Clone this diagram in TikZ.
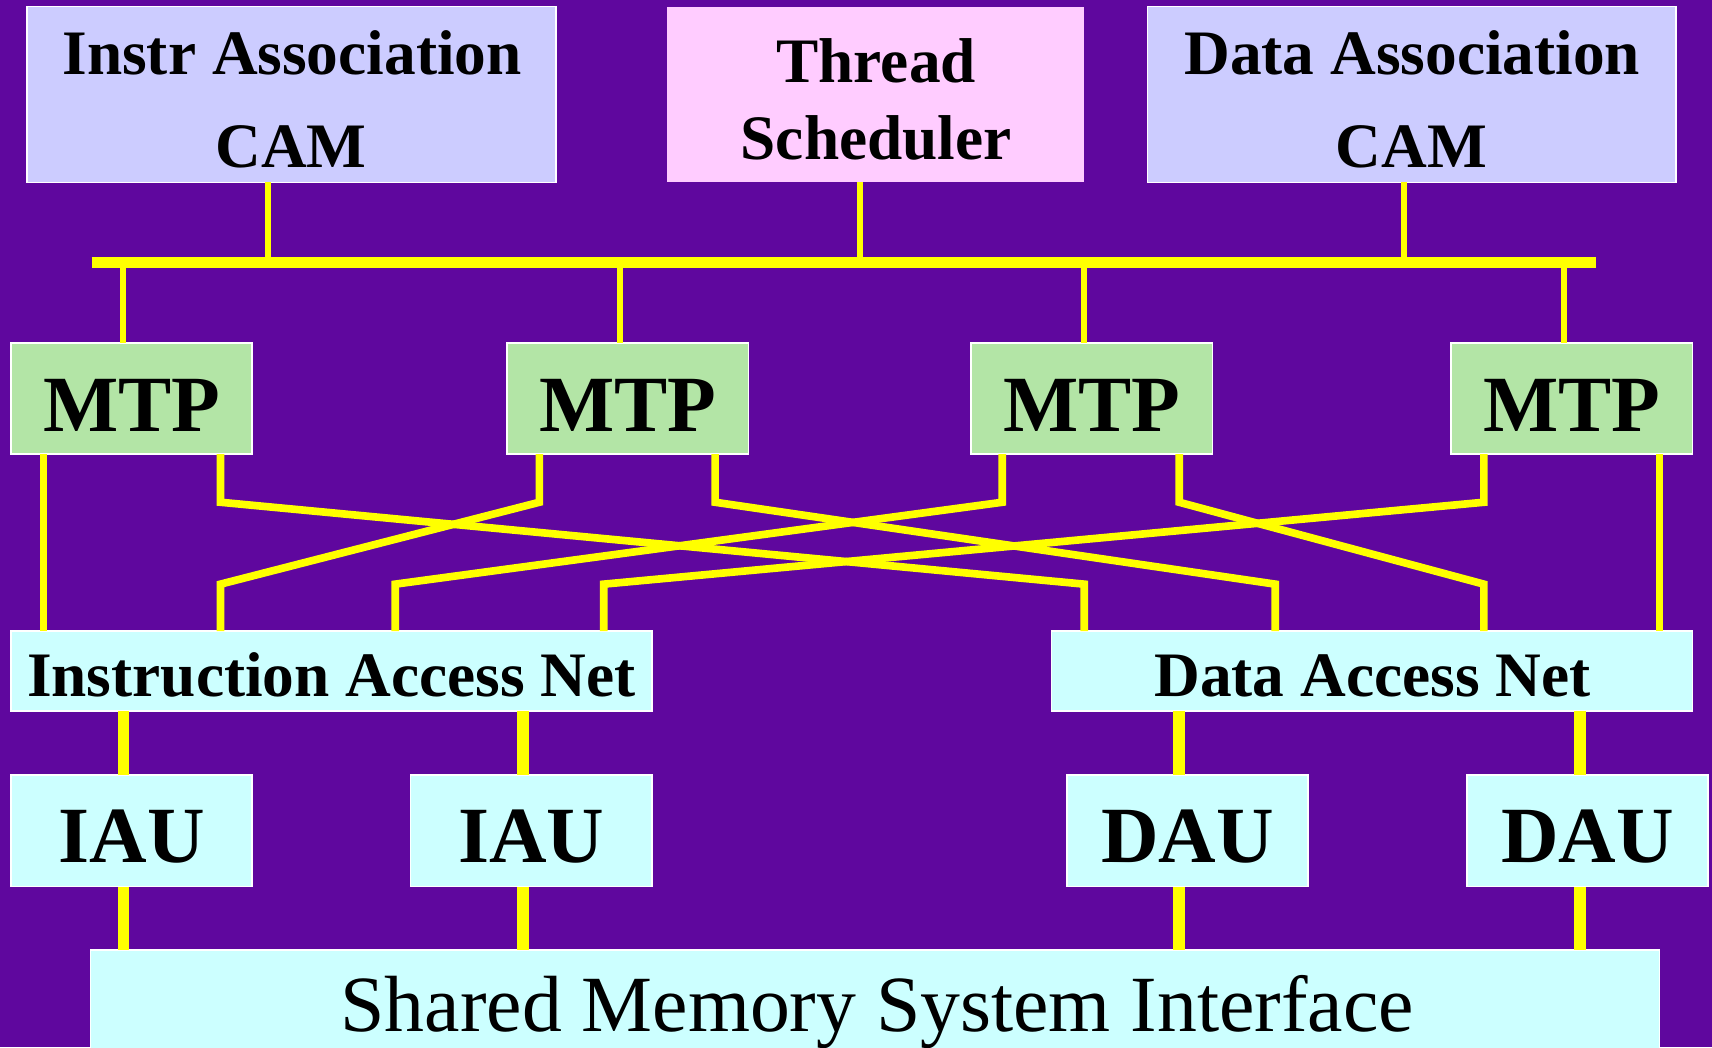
\documentclass[tikz,border=0pt]{standalone}
\usepackage{fontspec}
\setmainfont{Liberation Serif}
\definecolor{bgp}{RGB}{95,7,158}
\definecolor{lav}{RGB}{204,204,255}
\definecolor{pinkb}{RGB}{255,204,255}
\definecolor{mtpg}{RGB}{179,229,166}
\definecolor{cyanb}{RGB}{204,255,255}
\definecolor{ylw}{RGB}{255,255,0}
\begin{document}
\begin{tikzpicture}[x=1pt,y=-1pt,
  boxn/.style={draw=white, line width=1.5pt, inner sep=0pt, outer sep=0pt},
  lbl/.style={inner sep=0pt, outer sep=0pt, anchor=base, text=black},
  fA/.style={font=\bfseries\fontsize{58}{60}\selectfont},
  fB/.style={font=\bfseries\fontsize{73}{75}\selectfont},
  fC/.style={font=\fontsize{73}{75}\selectfont},
  thinl/.style={draw=ylw, line width=5.5pt},
  busl/.style={draw=ylw, line width=10.7pt},
  routel/.style={draw=ylw, line width=7pt, line join=miter},
  thickl/.style={draw=ylw, line width=10.5pt}]
\useasboundingbox (0,0) rectangle (1568,959);
\clip (0,0) rectangle (1568,959);
\fill[bgp] (0,0) rectangle (1568,959);

% top boxes
\node[boxn, fill=lav, minimum width=484pt, minimum height=161pt] (instr) at (267,86.5) {};
\node[boxn, draw=none, fill=pinkb, minimum width=382pt, minimum height=161pt] (thread) at (802,86.5) {};
\node[boxn, fill=lav, minimum width=484pt, minimum height=161pt] (data) at (1293,86.5) {};

% MTPs
\node[boxn, fill=mtpg, minimum width=221pt, minimum height=102pt] (mtp1) at (120.5,365) {};
\node[boxn, fill=mtpg, minimum width=221pt, minimum height=102pt] (mtp2) at (575,365) {};
\node[boxn, fill=mtpg, minimum width=221pt, minimum height=102pt] (mtp3) at (1000,365) {};
\node[boxn, fill=mtpg, minimum width=221pt, minimum height=102pt] (mtp4) at (1439.5,365) {};

% nets
\node[boxn, fill=cyanb, minimum width=587pt, minimum height=73pt] (ian) at (303.5,614.5) {};
\node[boxn, fill=cyanb, minimum width=587pt, minimum height=73pt] (dan) at (1256.5,614.5) {};

% units
\node[boxn, fill=cyanb, minimum width=221pt, minimum height=102pt] (iau1) at (120.5,761) {};
\node[boxn, fill=cyanb, minimum width=221pt, minimum height=102pt] (iau2) at (486.5,761) {};
\node[boxn, fill=cyanb, minimum width=221pt, minimum height=102pt] (dau1) at (1087.5,761) {};
\node[boxn, fill=cyanb, minimum width=221pt, minimum height=102pt] (dau2) at (1454,761) {};

% memory
\node[boxn, fill=cyanb, minimum width=1437pt, minimum height=105pt] (mem) at (801.5,922.5) {};

% texts
\node[lbl,fA] (instrT1) at (267.5,68) {Instr Association};
\node[lbl,fA] (instrT2) at (266.5,153) {CAM};
\node[lbl,fA] (thrT1) at (802.5,75.7) {Thread};
\node[lbl,fA] (thrT2) at (802.5,146) {Scheduler};
\node[lbl,fA] (dataT1) at (1293.5,68) {Data Association};
\node[lbl,fA] (dataT2) at (1292.5,153) {CAM};
\node[lbl,fB] (mtpT1) at (120.5,395) {MTP};
\node[lbl,fB] (mtpT2) at (575,395) {MTP};
\node[lbl,fB] (mtpT3) at (1000,395) {MTP};
\node[lbl,fB] (mtpT4) at (1439.5,395) {MTP};
\node[lbl,fA] (ianT) at (303.5,638) {Instruction Access Net};
\node[lbl,fA] (danT) at (1257,638) {Data Access Net};
\node[lbl,fB] (iauT1) at (120.5,790) {IAU};
\node[lbl,fB] (iauT2) at (486.5,790) {IAU};
\node[lbl,fB] (dauT1) at (1087.5,790) {DAU};
\node[lbl,fB] (dauT2) at (1454,790) {DAU};
\node[lbl,fC] (memT) at (803.5,945) {Shared Memory System Interface};

% bus
\coordinate (busL) at (84,240.5);
\coordinate (busR) at (1462,240.5);
\draw[thinl] (instr.south -| 245,0) -- (245,240.5);
\draw[thinl] (thread.south -| 788,0) -- (788,240.5);
\draw[thinl] (data.south -| 1286,0) -- (1286,240.5);
\draw[busl] (busL) -- (busR);
\draw[thinl] (113,240.5) -- (mtp1.north -| 113,0);
\draw[thinl] (568,240.5) -- (mtp2.north -| 568,0);
\draw[thinl] (993,240.5) -- (mtp3.north -| 993,0);
\draw[thinl] (1432,240.5) -- (mtp4.north -| 1432,0);

% crossing routes
\draw[routel] (mtp1.south -| 40,0) -- (ian.north -| 40,0);
\draw[routel] (mtp1.south -| 202,0) -- (202,460) -- (993,535) -- (dan.north -| 993,0);
\draw[routel] (mtp2.south -| 494,0) -- (494,460) -- (202,535) -- (ian.north -| 202,0);
\draw[routel] (mtp2.south -| 655,0) -- (655,460) -- (1168,535) -- (dan.north -| 1168,0);
\draw[routel] (mtp3.south -| 918,0) -- (918,460) -- (362,535) -- (ian.north -| 362,0);
\draw[routel] (mtp3.south -| 1080,0) -- (1080,460) -- (1359,535) -- (dan.north -| 1359,0);
\draw[routel] (mtp4.south -| 1359,0) -- (1359,460) -- (553,535) -- (ian.north -| 553,0);
\draw[routel] (mtp4.south -| 1520,0) -- (dan.north -| 1520,0);

% nets to units to memory
\draw[thickl] (ian.south -| 113,0) -- (iau1.north -| 113,0);
\draw[thickl] (ian.south -| 479,0) -- (iau2.north -| 479,0);
\draw[thickl] (dan.south -| 1080,0) -- (dau1.north -| 1080,0);
\draw[thickl] (dan.south -| 1447,0) -- (dau2.north -| 1447,0);
\draw[thickl] (iau1.south -| 113,0) -- (mem.north -| 113,0);
\draw[thickl] (iau2.south -| 479,0) -- (mem.north -| 479,0);
\draw[thickl] (dau1.south -| 1080,0) -- (mem.north -| 1080,0);
\draw[thickl] (dau2.south -| 1447,0) -- (mem.north -| 1447,0);
\end{tikzpicture}
\end{document}
